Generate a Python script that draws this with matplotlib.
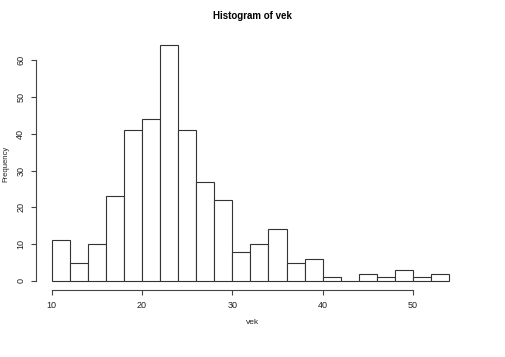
import numpy as np
import matplotlib
matplotlib.use("Agg")
import matplotlib.pyplot as plt

# histogram of vek, bins of width 2 from 10 to 54
bin_edges = np.arange(10, 56, 2)
counts = [11, 5, 10, 23, 41, 44, 64, 41, 27, 22, 8, 10, 14, 5, 6, 1, 0, 2, 1, 3, 1, 2]
x_ticks = [10, 20, 30, 40, 50]
y_ticks = [0, 10, 20, 30, 40, 50, 60]

plt.rcParams["font.family"] = ["Liberation Sans", "DejaVu Sans"]

fig = plt.figure(figsize=(5.05, 3.57), dpi=100)
ax = fig.add_axes([0.0705, 0.1866, 0.8505, 0.7124])

ax.bar(bin_edges[:-1], counts, width=np.diff(bin_edges), align="edge",
       color="white", edgecolor="#333333", linewidth=0.8)

# R-style 4% padding around the data range
x0, x1 = bin_edges[0], bin_edges[-1]
ymax = max(counts)
ax.set_xlim(x0 - 0.04 * (x1 - x0), x1 + 0.04 * (x1 - x0))
ax.set_ylim(-0.04 * ymax, ymax * 1.04)

ax.spines["top"].set_visible(False)
ax.spines["right"].set_visible(False)
ax.spines["left"].set_bounds(y_ticks[0], y_ticks[-1])
ax.spines["bottom"].set_bounds(x_ticks[0], x_ticks[-1])
for s in ("left", "bottom"):
    ax.spines[s].set_color("#444444")
    ax.spines[s].set_linewidth(0.8)

ax.set_xticks(x_ticks)
ax.set_yticks(y_ticks)
ax.set_yticklabels([str(v) for v in y_ticks], rotation=90, va="center")
ax.tick_params(axis="both", labelsize=6.5, length=3.5, width=0.8, color="#444444",
               pad=4, labelcolor="#222222")

# axis titles placed like R's mtext lines
fig.text(0.5, 1 - 323 / 357, "vek", ha="center", va="center",
         fontsize=6, color="#222222")
fig.text(6 / 505, 1 - 164 / 357, "Frequency", ha="center", va="center",
         rotation=90, fontsize=5.5, color="#222222")
fig.text(0.5, 0.955, "Histogram of vek", ha="center", va="center",
         fontsize=7, fontweight="bold")

fig.savefig("out.png", dpi=100)
